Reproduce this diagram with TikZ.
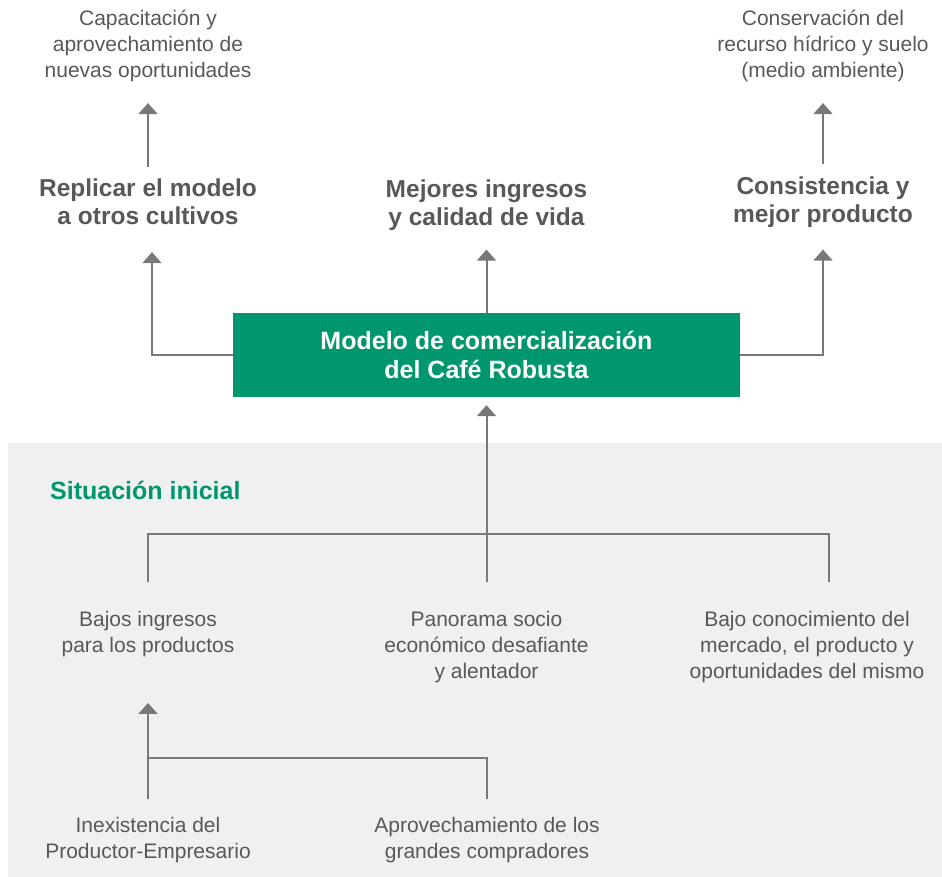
\documentclass[tikz,border=0pt]{standalone}
\usepackage{fontspec}
\setmainfont{Liberation Sans}
\usetikzlibrary{arrows.meta,positioning}
\definecolor{verde}{RGB}{0,150,110}
\definecolor{fondo}{RGB}{240,240,240}
\definecolor{texto}{RGB}{88,88,88}
\definecolor{linea}{RGB}{120,120,120}

\tikzset{
  txt/.style={align=center, text=texto, inner sep=0pt, font=\fontsize{21}{26}\selectfont},
  titulo/.style={align=center, text=texto, inner sep=0pt, font=\bfseries\fontsize{24.5}{28}\selectfont},
  modelo/.style={fill=verde, text=white, align=center, minimum width=507pt, minimum height=84pt,
    inner sep=0pt, font=\bfseries\fontsize{25}{29}\selectfont},
  conn/.style={draw=linea, line width=2pt},
  arr/.style={conn, -{Triangle[width=19pt,length=11pt]}},
}

\begin{document}
\begin{tikzpicture}[x=1pt,y=-1pt]
  %%%%% fondo %%%%%
  \useasboundingbox (0,0) rectangle (942,877);
  \fill[fondo] (8,443) rectangle (942,877);

  %%%%% arriba %%%%%
  \node[txt] (cap) at (148,46) {Capacitación y\\aprovechamiento de\\nuevas oportunidades};
  \node[txt] (cons) at (823,46) {Conservación del\\recurso hídrico y suelo\\(medio ambiente)};

  \node[titulo] (rep) at (148,202) {Replicar el modelo\\a otros cultivos};
  \node[titulo] (ing) at (486.5,205) {Mejores ingresos\\y calidad de vida};
  \node[titulo] (con) at (823,202) {Consistencia y\\mejor producto};

  \node[modelo] (mod) at (486.5,355) {Modelo de comercialización\\del Café Robusta};

  \draw[arr] ([yshift=12pt]rep.north) -- ([yshift=-21pt]cap.south);
  \draw[arr] ([yshift=12pt]con.north) -- ([yshift=-21pt]cons.south);
  \draw[arr] (mod.west) -| ([xshift=4pt,yshift=-27pt]rep.south);
  \draw[arr] (mod.north) -- ([yshift=-19pt]ing.south);
  \draw[arr] (mod.east) -| ([yshift=-22pt]con.south);

  %%%%% situacion inicial %%%%%
  \node[anchor=west, text=verde, inner sep=0pt, font=\bfseries\fontsize{25}{28}\selectfont] (sit) at (50,490) {Situación inicial};

  \node[txt] (baj) at (148,634) {Bajos ingresos\\para los productos};
  \node[txt] (pan) at (486.5,647) {Panorama socio\\económico desafiante\\y alentador};
  \node[txt] (bco) at (807,647) {Bajo conocimiento del\\mercado, el producto y\\oportunidades del mismo};

  \draw[conn] ([yshift=29pt]baj.north) |- ([xshift=22pt,yshift=77pt]bco.north) -- ([xshift=22pt,yshift=29pt]bco.north);
  \draw[arr] ([yshift=29pt]pan.north) -- ([yshift=-8pt]mod.south);

  \node[txt] (ine) at (148,840) {Inexistencia del\\Productor-Empresario};
  \node[txt] (apr) at (487,840) {Aprovechamiento de los\\grandes compradores};

  \draw[arr] ([yshift=18pt]ine.north) -- ([yshift=-46pt]baj.south);
  \draw[conn] ([yshift=18pt]apr.north) |- ([yshift=59pt]ine.north);
\end{tikzpicture}
\end{document}
